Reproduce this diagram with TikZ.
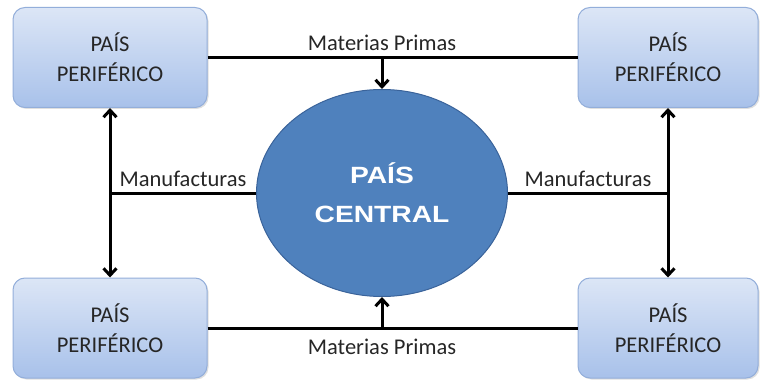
\documentclass[tikz,border=0pt]{standalone}
\usepackage{fontspec}
\setmainfont{Carlito}
\newfontfamily\centralfont[FakeStretch=1.2]{Liberation Sans}
\usepackage{tikz}
\usetikzlibrary{arrows.meta}
\usetikzlibrary{shapes.geometric}
\usetikzlibrary{shadows}

\definecolor{boxtop}{HTML}{DCE6F6}
\definecolor{boxbot}{HTML}{A8C1EA}
\definecolor{boxline}{HTML}{93AEDA}
\definecolor{centralfill}{HTML}{4F81BD}
\definecolor{centralline}{HTML}{3A639A}
\definecolor{boxtext}{HTML}{262626}

\begin{document}
\begin{tikzpicture} [x=1pt,y=1pt,
    pais/.style={draw=boxline,line width=1pt,rounded corners=12pt,
      top color=boxtop,bottom color=boxbot,
      drop shadow={shadow xshift=1.5pt,shadow yshift=-1.5pt,opacity=.25},
      minimum width=194pt,minimum height=100pt,align=center,
      text=boxtext,font=\fontsize{22.5}{30}\selectfont},
    flujo/.style={draw=black,line width=3pt,-{Straight Barb[length=7pt,width=13pt]}},
    linea/.style={draw=black,line width=3pt},
    rotulo/.style={text=boxtext,font=\fontsize{22.5}{27}\selectfont,inner sep=2pt}]
        \useasboundingbox (0,0) rectangle (761,381);
        % paises perifericos
        \node[pais] (tl) at (110,323.5) {PAÍS\\PERIFÉRICO};
        \node[pais,minimum width=180pt] (tr) at (668,323.5) {PAÍS\\PERIFÉRICO};
        \node[pais] (bl) at (110,53) {PAÍS\\PERIFÉRICO};
        \node[pais,minimum width=180pt] (br) at (668,53) {PAÍS\\PERIFÉRICO};
        % pais central
        \node[ellipse,draw=centralline,line width=1pt,fill=centralfill,
          minimum width=251pt,minimum height=207pt,align=center,text=white,
          font=\centralfont\bfseries\fontsize{23.5}{39}\selectfont] (c) at (382,188) {PAÍS\\CENTRAL};
        % materias primas
        \coordinate (mt) at (tl.east -| c.north);
        \coordinate (mb) at (bl.east -| c.south);
        \draw[linea] (tl.east) -- (tr.west);
        \draw[linea] (bl.east) -- (br.west);
        \draw[flujo] (mt) -- (c.north);
        \draw[flujo] (mb) -- (c.south);
        \node[rotulo,anchor=south] at ([yshift=5pt]mt) {Materias Primas};
        \node[rotulo,anchor=north] at ([yshift=-9pt]mb) {Materias Primas};
        % manufacturas
        \coordinate (ml) at (c.west -| tl.south);
        \coordinate (mr) at (c.east -| tr.south);
        \draw[linea] (c.west) -- node[rotulo,above=3pt] {Manufacturas} (ml);
        \draw[linea] (c.east) -- node[rotulo,above=3pt] {Manufacturas} (mr);
        \draw[flujo] (ml) -- (tl.south);
        \draw[flujo] (ml) -- (bl.north);
        \draw[flujo] (mr) -- (tr.south);
        \draw[flujo] (mr) -- (br.north);
      \end{tikzpicture}
\end{document}
